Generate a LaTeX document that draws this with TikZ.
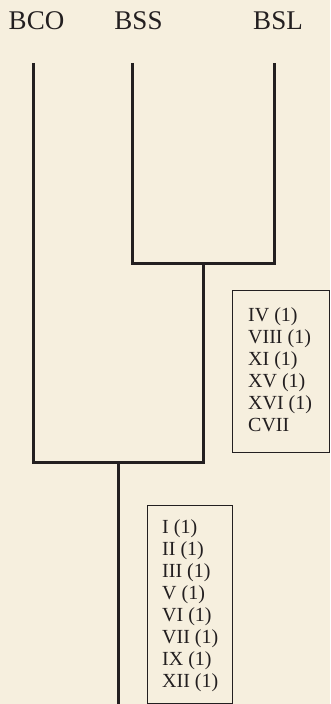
\documentclass[tikz,border=0pt]{standalone}
\usepackage{fontspec}
\setmainfont{Liberation Serif}
\definecolor{paper}{RGB}{246,239,222}
\definecolor{ink}{RGB}{35,31,32}
\begin{document}
\begin{tikzpicture}[x=1bp,y={(0bp,-1bp)},
  taxon/.style={anchor=base,text=ink,font=\fontsize{27bp}{30bp}\selectfont},
  branch/.style={draw=ink,line width=3bp},
  charbox/.style={draw=ink,line width=1.2bp,anchor=north west,inner sep=0pt},
  charlist/.style={anchor=north west,align=left,inner sep=0pt,text=ink,
    font=\fontsize{20bp}{22bp}\selectfont}]
\fill[paper] (0,0) rectangle (330,704);
\useasboundingbox (0,0) rectangle (330,704);
% taxa
\node[taxon] (bco) at (36.5,30) {BCO};
\node[taxon] (bss) at (138.5,30) {BSS};
\node[taxon] (bsl) at (278,30) {BSL};
\coordinate (bcoTop) at (33,63);
\coordinate (bssTop) at (132,63);
\coordinate (bslTop) at (274,63);
% junctions
\coordinate (jSS) at (203,263);
\coordinate (jRoot) at (118,462);
\coordinate (rootEnd) at (118,706);
\draw[branch] (bssTop) |- (jSS) -| (bslTop);
\draw[branch] (bcoTop) |- (jRoot) -| (jSS);
\draw[branch] (jRoot) -- (rootEnd);
% character boxes
\node[charbox,minimum width=97bp,minimum height=162bp] (boxSS) at (232,290) {};
\node[charlist] (listSS) at (248,307)
  {IV (1)\\VIII (1)\\XI (1)\\XV (1)\\XVI (1)\\CVII};
\node[charbox,minimum width=85bp,minimum height=198bp] (boxRoot) at (147,505) {};
\node[charlist] (listRoot) at (162,519)
  {I (1)\\II (1)\\III (1)\\V (1)\\VI (1)\\VII (1)\\IX (1)\\XII (1)};
\end{tikzpicture}
\end{document}
